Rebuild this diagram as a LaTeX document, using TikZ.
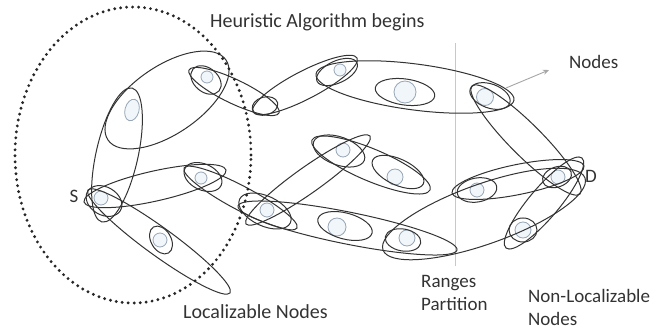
\documentclass[tikz,border=0pt]{standalone}
\usepackage{fontspec}
\setmainfont{Carlito}
\usetikzlibrary{arrows.meta,shapes.geometric}
\definecolor{ringc}{HTML}{333333}
\definecolor{ndline}{HTML}{98A6B6}
\definecolor{ndfill}{HTML}{F0F6FA}
\definecolor{titleblue}{HTML}{1AA0E6}
\definecolor{partc}{HTML}{C8C8C8}
\newcommand\ellip[5]{%
  \pgfmathsetmacro\ecx{(#1+#3)/2}%
  \pgfmathsetmacro\ecy{(#2+#4)/2}%
  \pgfmathsetmacro\ea{veclen(#3-#1,#4-#2)/2}%
  \pgfmathsetmacro\eang{atan2(#2-#4,#3-#1)}%
  \draw[ring, rotate around={\eang:(\ecx,\ecy)}] (\ecx,\ecy) ellipse ({\ea pt} and {#5pt});%
}
\newcommand\ellipc[5]{%
  \draw[ring, rotate around={-#5:(#1,#2)}] (#1,#2) ellipse ({#3pt} and {#4pt});%
}
\tikzset{
  ring/.style={draw=ringc, line width=1pt},
  nd/.style={circle, draw=ndline, fill=ndfill, line width=0.8pt, inner sep=0pt},
  lbl/.style={font=\fontsize{19}{23}\selectfont, text=black!80, inner sep=0pt},
  lblw/.style={font=\fontsize{20}{23}\selectfont, text=black!80, inner sep=0pt},
}
\begin{document}
\begin{tikzpicture}[x=1pt,y=-1pt]
\useasboundingbox (0,0) rectangle (662,329);
\fill[white] (0,0) rectangle (662,329);
% cut-off title
\begin{scope}
\clip (0,0) rectangle (662,329);
\node[anchor=east, inner sep=0pt, text=titleblue, font=\bfseries\fontsize{27}{30}\selectfont] (title1) at (338,-11) {Strategy};
\node[anchor=west, inner sep=0pt, text=titleblue, font=\bfseries\fontsize{27}{30}\selectfont] (title2) at (352,-11) {(Localization)};
\end{scope}
% range partition line
\coordinate (ptop) at (455,43);
\coordinate (pbot) at (455,266);
\draw[partc, line width=0.7pt] (ptop) -- (pbot);
% node circles
\node[nd, minimum size=12pt] (n1) at (207,77) {};
\node[nd, ellipse, minimum width=14pt, minimum height=22pt, rotate=-15] (n2) at (132,110) {};
\node[nd, minimum size=14pt] (nS) at (101,198) {};
\node[nd, minimum size=12pt] (n4) at (201,178) {};
\node[nd, minimum size=14pt] (n5) at (160,240) {};
\node[nd, minimum size=14pt] (n6) at (267,210) {};
\node[nd, minimum size=12pt] (n7) at (340,70) {};
\node[nd, minimum size=22pt] (n8) at (405,92) {};
\node[nd, minimum size=17pt] (n9) at (485,97) {};
\node[nd, minimum size=14pt] (n10) at (343,150) {};
\node[nd, minimum size=16pt] (n11) at (395,177) {};
\node[nd, minimum size=18pt] (n12) at (337,227) {};
\node[nd, minimum size=16pt] (n13) at (407,238) {};
\node[nd, minimum size=14pt] (n14) at (477,190) {};
\node[nd, minimum size=14pt] (nD) at (558,177) {};
\node[nd, minimum size=16pt] (n15) at (523,230) {};
% large group ellipses
\ellip{108}{140}{226}{60}{34}
\ellip{132}{88}{102}{222}{21}
\ellip{84}{202}{226}{170}{15}
\ellip{88}{190}{230}{293}{14}
\ellip{189}{70}{279}{113}{12}
\ellip{253}{112}{357}{58}{14}
\ellip{316}{74}{514}{100}{23}
\ellip{472}{86}{580}{194}{16}
\ellip{184}{168}{297}{228}{12}
\ellip{246}{224}{370}{136}{13}
\ellip{312}{140}{430}{190}{16}
\ellip{238}{206}{457}{250}{16}
\ellip{452}{193}{584}{166}{15}
\ellip{506}{248}{582}{158}{15}
\ellip{383}{250}{585}{178}{30}
% small ellipses around nodes
\ellipc{206}{80}{17}{12}{40}
\ellipc{104}{201}{19}{14}{30}
\ellipc{203}{177}{20}{13}{25}
\ellipc{161}{240}{15}{10}{60}
\ellipc{265}{106}{13}{9}{-15}
\ellipc{337}{72}{22}{11}{-25}
\ellipc{405}{92}{30}{13}{8}
\ellipc{490}{96}{21}{12}{20}
\ellipc{557}{177}{15}{10}{-20}
\ellipc{477}{190}{20}{12}{-10}
\ellipc{523}{230}{14}{12}{0}
\ellipc{265}{211}{28}{15}{25}
\ellipc{339}{151}{27}{14}{20}
\ellipc{398}{172}{28}{13}{25}
\ellipc{345}{226}{28}{13}{15}
\ellipc{403}{240}{18}{11}{10}
% localizable region (dotted)
\draw[black!85, line width=3.2pt, line cap=round, dash pattern=on 0pt off 6pt] (133,155) ellipse (118pt and 148pt);
% labels
\node[lblw, anchor=west] (heur) at (210,22) {Heuristic Algorithm begins};
\node[lbl, anchor=west] (nodes) at (569,62) {Nodes};
\coordinate (arrs) at (506,88);
\coordinate (arre) at (549,70);
\draw[black!35, line width=0.9pt, -{Stealth[length=6pt,width=5pt]}] (arrs) -- (arre);
\node[lbl, anchor=center] (S) at (74,196) {S};
\node[lbl, anchor=center] (D) at (591,176) {D};
\node[lblw, anchor=west] (loc) at (183,312) {Localizable Nodes};
\node[lbl, anchor=west, align=left] (rng) at (421,293) {Ranges\\Partition};
\node[lbl, anchor=west, align=left] (nonloc) at (528,307) {Non-Localizable\\Nodes};
\end{tikzpicture}
\end{document}
